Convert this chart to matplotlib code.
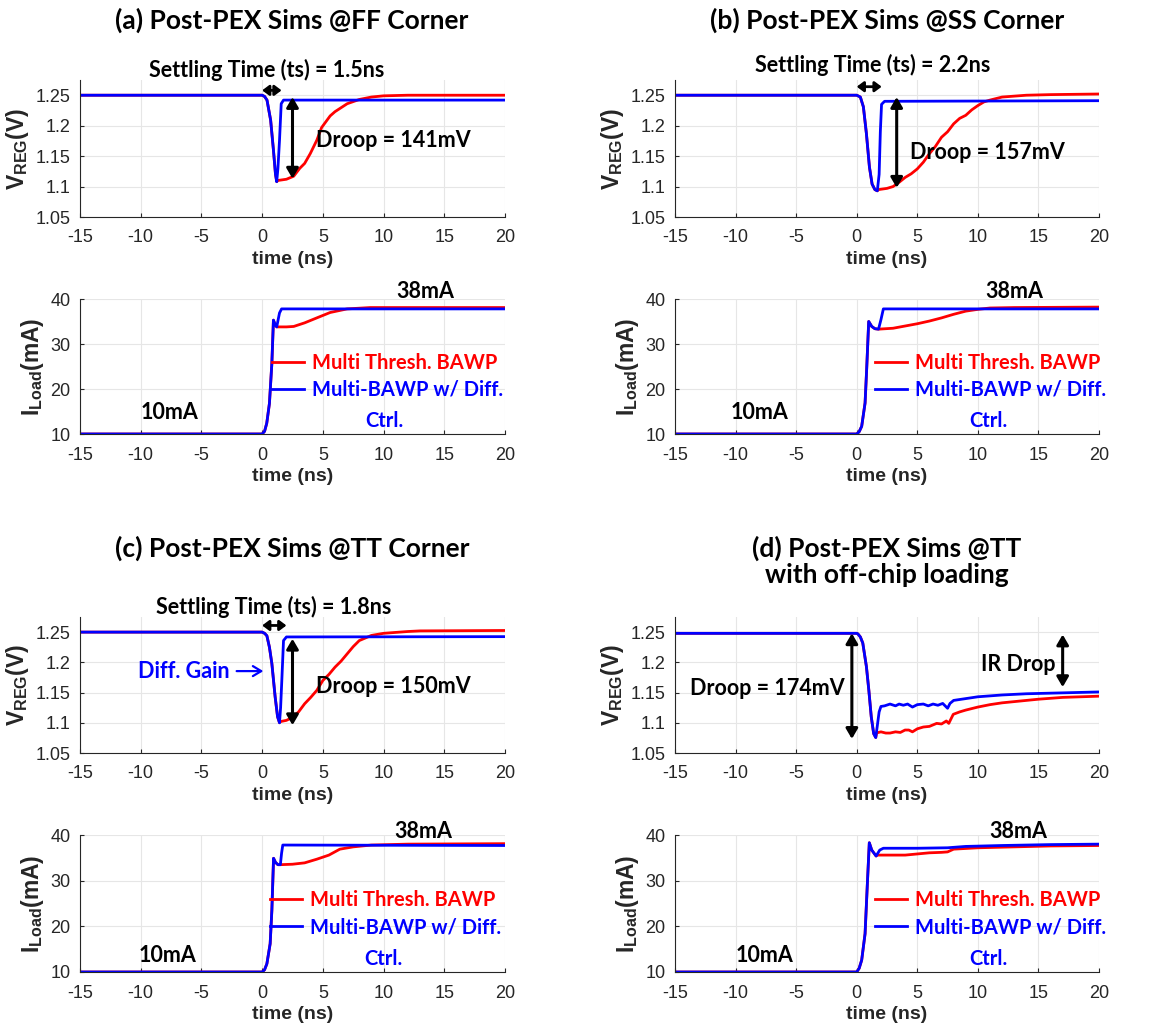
import matplotlib
matplotlib.use('Agg')
import matplotlib.pyplot as plt
from matplotlib.ticker import FuncFormatter

plt.rcParams['font.family'] = ['Liberation Sans', 'DejaVu Sans']
plt.rcParams['mathtext.fontset'] = 'custom'
plt.rcParams['mathtext.rm'] = 'Liberation Sans:bold'
plt.rcParams['mathtext.bf'] = 'Liberation Sans:bold'
plt.rcParams['mathtext.it'] = 'Liberation Sans:bold'
plt.rcParams['axes.unicode_minus'] = False

ANN = ['Lato', 'DejaVu Sans']
RED = '#ff0000'
BLUE = '#0000ff'
AXC = '#262626'

# ---------------- data ----------------
titles = ['(a) Post-PEX Sims @FF Corner', '(b) Post-PEX Sims @SS Corner',
          '(c) Post-PEX Sims @TT Corner', '(d) Post-PEX Sims @TT\nwith off-chip loading']
legend_red = 'Multi Thresh. BAWP'
legend_blue = 'Multi-BAWP w/ Diff.'
legend_blue2 = 'Ctrl.'
xticks = [-15, -10, -5, 0, 5, 10, 15, 20]
vticks = [1.05, 1.1, 1.15, 1.2, 1.25]
iticks = [10, 20, 30, 40]

# Panel (a) FF
ta_vb = [-15, 0, 0.2, 0.4, 0.7, 0.93, 1.1, 1.2, 1.3, 1.43, 1.57, 1.76, 20]
va_b = [1.25, 1.25, 1.248, 1.242, 1.209, 1.16, 1.12, 1.108, 1.13, 1.176, 1.236, 1.242, 1.242]
ta_vr = [-15, 0, 0.2, 0.4, 0.7, 0.93, 1.1, 1.2, 1.3, 2.0, 2.6, 3.1, 3.5, 3.96, 4.5, 4.9, 5.6, 6.0, 7.0, 8.0, 9.0, 10.0, 12.0, 20]
va_r = [1.25, 1.25, 1.248, 1.242, 1.209, 1.16, 1.12, 1.108, 1.110, 1.112, 1.117, 1.130, 1.138, 1.154, 1.176, 1.197, 1.216, 1.223, 1.236, 1.243, 1.247, 1.249, 1.250, 1.250]
ta_ib = [-15, 0, 0.2, 0.38, 0.6, 0.8, 0.93, 1.07, 1.2, 1.43, 1.6, 20]
ia_b = [10, 10, 10.6, 12.4, 16.8, 25.7, 35.3, 34.3, 33.8, 36.9, 37.8, 37.8]
ta_ir = [-15, 0, 0.2, 0.38, 0.6, 0.8, 0.93, 1.07, 1.2, 1.3, 2.0, 2.6, 3.5, 4.5, 5.6, 7.0, 8.9, 12.0, 20]
ia_r = [10, 10, 10.6, 12.4, 16.8, 25.7, 35.3, 34.3, 33.8, 33.8, 33.8, 33.9, 34.7, 35.8, 37.0, 37.8, 38.1, 38.1, 38.1]

# Panel (b) SS
tb_vb = [-15, 0, 0.3, 0.55, 0.8, 1.05, 1.27, 1.5, 1.7, 1.85, 1.95, 2.05, 2.3, 20]
vb_b = [1.25, 1.25, 1.247, 1.231, 1.187, 1.132, 1.104, 1.095, 1.093, 1.12, 1.19, 1.235, 1.240, 1.241]
tb_vr = [-15, 0, 0.3, 0.55, 0.8, 1.05, 1.27, 1.5, 1.7, 1.8, 2.5, 3.0, 3.5, 4.0, 4.5, 5.0, 5.5, 6.0, 6.5, 7.0, 7.5, 8.0, 8.5, 9.0, 9.5, 10.0, 10.5, 11.0, 12.0, 14.0, 16.0, 20]
vb_r = [1.25, 1.25, 1.247, 1.231, 1.187, 1.132, 1.104, 1.095, 1.093, 1.095, 1.097, 1.100, 1.107, 1.115, 1.121, 1.129, 1.140, 1.154, 1.166, 1.181, 1.190, 1.203, 1.212, 1.217, 1.226, 1.233, 1.239, 1.242, 1.247, 1.250, 1.251, 1.252]
tb_ib = [-15, 0, 0.2, 0.41, 0.69, 0.82, 0.99, 1.24, 1.5, 1.8, 2.0, 2.2, 20]
ib_b = [10, 10, 10.5, 11.7, 16.9, 24.3, 35.0, 33.9, 33.4, 33.3, 35.4, 37.8, 37.8]
tb_ir = [-15, 0, 0.2, 0.41, 0.69, 0.82, 0.99, 1.24, 1.5, 1.8, 3.0, 4.0, 5.0, 6.0, 7.0, 8.0, 9.0, 10.0, 11.0, 13.0, 20]
ib_r = [10, 10, 10.5, 11.7, 16.9, 24.3, 35.0, 33.9, 33.4, 33.3, 33.5, 34.0, 34.5, 35.1, 35.8, 36.6, 37.3, 37.7, 38.0, 38.1, 38.2]

# Panel (c) TT
tc_vb = [-15, 0, 0.2, 0.39, 0.6, 0.8, 1.07, 1.27, 1.43, 1.52, 1.62, 1.76, 2.0, 20]
vc_b = [1.25, 1.25, 1.248, 1.244, 1.225, 1.198, 1.143, 1.11, 1.1, 1.125, 1.17, 1.236, 1.242, 1.2425]
tc_vr = [-15, 0, 0.2, 0.39, 0.6, 0.8, 1.07, 1.27, 1.43, 1.5, 2.0, 2.5, 3.0, 3.5, 4.0, 4.5, 5.0, 5.5, 6.0, 6.5, 7.0, 7.5, 8.0, 9.0, 10.0, 12.0, 13.0, 20]
vc_r = [1.25, 1.25, 1.248, 1.244, 1.225, 1.198, 1.143, 1.11, 1.1, 1.102, 1.104, 1.109, 1.118, 1.1315, 1.142, 1.1536, 1.170, 1.180, 1.192, 1.202, 1.214, 1.226, 1.236, 1.2445, 1.248, 1.251, 1.252, 1.2527]
tc_ib = [-15, 0, 0.2, 0.39, 0.66, 0.8, 0.94, 1.1, 1.3, 1.5, 1.6, 1.7, 20]
ic_b = [10, 10, 10.5, 11.8, 16.2, 23.5, 34.9, 34.0, 33.5, 33.5, 36.0, 37.8, 37.7]
tc_ir = [-15, 0, 0.2, 0.39, 0.66, 0.8, 0.94, 1.1, 1.3, 1.5, 2.5, 3.5, 4.5, 5.5, 6.4, 7.5, 9.0, 12.0, 20]
ic_r = [10, 10, 10.5, 11.8, 16.2, 23.5, 34.9, 34.0, 33.5, 33.5, 33.6, 33.9, 34.7, 35.6, 36.9, 37.4, 37.8, 38.0, 38.1]

# Panel (d) TT off-chip
td_vb = [-15, 0, 0.1, 0.3, 0.5, 0.8, 1.0, 1.2, 1.4, 1.57, 1.7, 1.85, 2.0, 2.3, 2.75, 3.2, 3.5, 3.85, 4.2, 4.6, 5.0, 5.5, 5.9, 6.3, 6.7, 7.1, 7.5, 7.7, 8.0, 9.0, 10.0, 12.0, 14.0, 16.0, 18.0, 20]
vd_b = [1.248, 1.248, 1.247, 1.242, 1.232, 1.193, 1.154, 1.11, 1.082, 1.0756, 1.095, 1.118, 1.127, 1.128, 1.131, 1.128, 1.131, 1.129, 1.131, 1.126, 1.130, 1.131, 1.128, 1.131, 1.129, 1.132, 1.124, 1.132, 1.137, 1.140, 1.143, 1.146, 1.148, 1.149, 1.150, 1.151]
td_vr = [-15, 0, 0.1, 0.3, 0.5, 0.8, 1.0, 1.2, 1.4, 1.57, 1.65, 2.0, 2.4, 2.75, 3.2, 3.6, 3.99, 4.3, 4.6, 5.0, 5.5, 6.0, 6.6, 7.0, 7.4, 7.6, 7.97, 8.5, 9.0, 10.0, 11.0, 12.0, 13.5, 15.0, 17.0, 20]
vd_r = [1.248, 1.248, 1.247, 1.242, 1.232, 1.193, 1.154, 1.11, 1.082, 1.0756, 1.0833, 1.085, 1.083, 1.083, 1.085, 1.084, 1.088, 1.088, 1.085, 1.090, 1.093, 1.094, 1.099, 1.098, 1.103, 1.099, 1.114, 1.118, 1.121, 1.126, 1.130, 1.133, 1.136, 1.139, 1.142, 1.144]
td_ib = [-15, 0, 0.2, 0.41, 0.69, 0.88, 1.04, 1.24, 1.6, 1.9, 2.2, 3.0, 5.0, 7.5, 9.0, 12.0, 16.0, 20]
id_b = [10, 10, 10.8, 12.6, 18.4, 29.4, 38.3, 36.7, 35.4, 36.7, 37.1, 37.1, 37.1, 37.2, 37.5, 37.7, 37.9, 38.0]
td_ir = [-15, 0, 0.2, 0.41, 0.69, 0.88, 1.04, 1.24, 1.6, 1.65, 3.0, 4.0, 6.0, 7.0, 7.5, 8.0, 10.0, 13.0, 16.0, 20]
id_r = [10, 10, 10.8, 12.6, 18.4, 29.4, 38.3, 36.7, 35.4, 35.6, 35.6, 35.6, 36.1, 36.2, 36.3, 36.9, 37.2, 37.4, 37.6, 37.7]

panels = [
    (ta_vr, va_r, ta_vb, va_b, ta_ir, ia_r, ta_ib, ia_b),
    (tb_vr, vb_r, tb_vb, vb_b, tb_ir, ib_r, tb_ib, ib_b),
    (tc_vr, vc_r, tc_vb, vc_b, tc_ir, ic_r, tc_ib, ic_b),
    (td_vr, vd_r, td_vb, vd_b, td_ir, id_r, td_ib, id_b),
]

# ---------------- figure ----------------
W, H = 1170, 1032
fig = plt.figure(figsize=(W / 100, H / 100), dpi=100)


def add_ax(left, top, right, bottom):
    return fig.add_axes([left / W, 1 - bottom / H, (right - left) / W, (bottom - top) / H])


def style(ax, kind):
    ax.set_xlim(-15, 20)
    ax.set_xticks(xticks)
    if kind == 'v':
        ax.set_ylim(1.05, 1.275)
        ax.set_yticks(vticks)
        ax.yaxis.set_major_formatter(FuncFormatter(lambda v, p: ('%.2f' % v).rstrip('0').rstrip('.')))
        ax.set_ylabel(r'$\mathrm{V_{REG}}$(V)', fontsize=16.5, fontweight='bold', color=AXC, labelpad=3)
    else:
        ax.set_ylim(10, 40)
        ax.set_yticks(iticks)
        ax.set_ylabel(r'$\mathrm{I_{Load}}$(mA)', fontsize=16.5, fontweight='bold', color=AXC, labelpad=3)
    ax.set_xlabel('time (ns)', fontsize=14, fontweight='bold', color=AXC, labelpad=3)
    for s in ['top', 'right']:
        ax.spines[s].set_visible(False)
    for s in ['left', 'bottom']:
        ax.spines[s].set_color(AXC)
        ax.spines[s].set_linewidth(0.8)
    ax.tick_params(direction='in', length=3, width=0.8, colors=AXC, labelsize=13)
    ax.tick_params(axis='x', pad=9)
    ax.tick_params(axis='y', pad=7)
    ax.grid(True, color='#e6e6e6', linewidth=0.8)
    ax.set_axisbelow(True)


col_x = [(80, 505), (675, 1099)]
row_y = [((80, 217), (299, 434)), ((617, 753), (835, 972))]

axes = []
for i, p in enumerate(panels):
    r, c = divmod(i, 2)
    (xl, xr) = col_x[c]
    (vt, vbm), (it, ibm) = row_y[r]
    axv = add_ax(xl, vt, xr, vbm)
    axi = add_ax(xl, it, xr, ibm)
    style(axv, 'v')
    style(axi, 'i')
    tvr, vr, tvb, vb, tir, ir, tib, ib = p
    axv.plot(tvr, vr, color=RED, lw=2.0)
    axv.plot(tvb, vb, color=BLUE, lw=2.0)
    lr, = axi.plot(tir, ir, color=RED, lw=2.0)
    lb, = axi.plot(tib, ib, color=BLUE, lw=2.0)
    axes.append((axv, axi, lr, lb))

ann = dict(family=ANN, fontweight='bold', fontsize=15.5)
arrow_v = dict(arrowstyle='<|-|>,head_length=0.6,head_width=0.35', color='black', lw=2.2,
               shrinkA=0, shrinkB=0, mutation_scale=10)
arrow_h = dict(arrowstyle='<|-|>,head_length=0.4,head_width=0.3', color='black', lw=2.0,
               shrinkA=0, shrinkB=0, mutation_scale=10)

# titles
title_pos = [(292, 20), (887, 20), (292, 548), (887, 561)]
for (x, y), t in zip(title_pos, titles):
    fig.text(x / W, 1 - y / H, t, ha='center', va='center', family=ANN, fontweight='bold',
             fontsize=19, linespacing=1.1)

# settling / droop annotations
settle = [('Settling Time (ts) = 1.5ns', 0.4, 1.291, 1.6, 1.258, 2.5, 1.247, 1.113, 'Droop = 141mV', 4.4, 1.176),
          ('Settling Time (ts) = 2.2ns', 1.3, 1.2996, 2.06, 1.264, 3.3, 1.247, 1.098, 'Droop = 157mV', 4.4, 1.156),
          ('Settling Time (ts) = 1.8ns', 0.94, 1.291, 2.0, 1.261, 2.5, 1.239, 1.096, 'Droop = 150mV', 4.4, 1.160)]
for i, (txt, tx, ty, hx, hy, vx, vy0, vy1, dtxt, dx, dy) in enumerate(settle):
    axv = axes[i][0]
    axv.text(tx, ty, txt, ha='center', va='center', clip_on=False, **ann)
    axv.annotate('', xy=(0, hy), xytext=(hx, hy), arrowprops=arrow_h, annotation_clip=False)
    axv.annotate('', xy=(vx, vy0), xytext=(vx, vy1), arrowprops=arrow_v)
    axv.text(dx, dy, dtxt, ha='left', va='center', **ann)

axc = axes[2][0]
axc.text(-2.7, 1.1855, 'Diff. Gain', ha='right', va='center', color=BLUE, **ann)
axc.annotate('', xy=(0.1, 1.1855), xytext=(-2.1, 1.1855),
             arrowprops=dict(arrowstyle='->,head_length=0.5,head_width=0.3', color=BLUE, lw=1.6,
                             shrinkA=0, shrinkB=0, mutation_scale=12))

axd = axes[3][0]
axd.annotate('', xy=(-0.4, 1.248), xytext=(-0.4, 1.0733), arrowprops=arrow_v)
axd.text(-1.0, 1.157, 'Droop = 174mV', ha='right', va='center', **ann)
axd.annotate('', xy=(17.0, 1.246), xytext=(17.0, 1.159), arrowprops=arrow_v)
axd.text(16.4, 1.196, 'IR Drop', ha='right', va='center', **ann)

# load-current annotations & legends
cur = [(13.4, 41.7, -7.6, 14.7, 0.8, 10.1, 12.8),
       (13.0, 41.7, -8.0, 14.7, 1.5, 10.9, 12.8),
       (13.3, 40.7, -7.8, 13.7, 0.66, 10.0, 12.9),
       (13.3, 40.7, -7.6, 13.7, 1.5, 10.9, 12.9)]
for (axv, axi, lr, lb), (x38, y38, x10, y10, lx, cx, cy) in zip(axes, cur):
    axi.text(x38, y38, '38mA', ha='center', va='center', clip_on=False, **ann)
    axi.text(x10, y10, '10mA', ha='center', va='center', **ann)
    axi.legend([lr, lb], [legend_red, legend_blue], loc='center left', bbox_to_anchor=(lx, 22.8),
               bbox_transform=axi.transData, frameon=False,
               prop=dict(family=ANN, weight='bold', size=14.5), handlelength=1.6,
               handletextpad=0.4, labelspacing=0.35, borderpad=0, borderaxespad=0,
               labelcolor='linecolor')
    axi.text(cx, cy, legend_blue2, ha='center', va='center', color=BLUE,
             family=ANN, fontweight='bold', fontsize=14.5)

fig.savefig('out.png', dpi=100, facecolor='white')
